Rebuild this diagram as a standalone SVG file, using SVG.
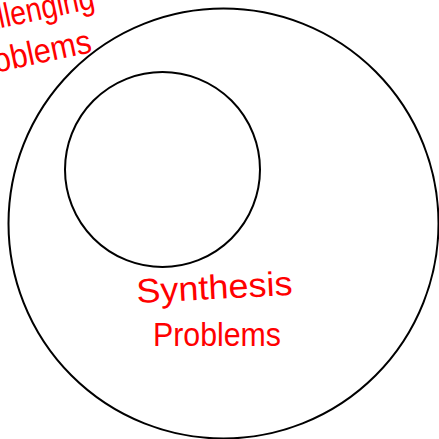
<svg xmlns="http://www.w3.org/2000/svg" width="439" height="439" viewBox="0 0 439 439">
  <style>
    .ring { fill: none; stroke: #000; stroke-width: 2; }
    .hand { fill: #ff0000; font-family: "Liberation Sans", "DejaVu Sans", sans-serif; font-size: 34px; }
  </style>
  <rect width="439" height="439" fill="#fff"/>
  <g id="challenging-problems">
    <circle class="ring" cx="223.5" cy="223.5" r="215"/>
    <g transform="rotate(-12 96 8)">
      <text class="hand" x="96" y="8" text-anchor="end" textLength="150" lengthAdjust="spacingAndGlyphs">Challenging</text>
    </g>
    <g transform="rotate(-12 93 52)">
      <text class="hand" x="93" y="52" text-anchor="end" textLength="130" lengthAdjust="spacingAndGlyphs">Problems</text>
    </g>
  </g>
  <g id="synthesis-problems">
    <circle class="ring" cx="162.5" cy="169.5" r="97.5"/>
    <text class="hand" x="137" y="299" textLength="156" lengthAdjust="spacingAndGlyphs" transform="rotate(-3 215 299)">Synthesis</text>
    <text class="hand" x="153" y="346" textLength="128" lengthAdjust="spacingAndGlyphs">Problems</text>
  </g>
  <g id="connectors"/>
</svg>
